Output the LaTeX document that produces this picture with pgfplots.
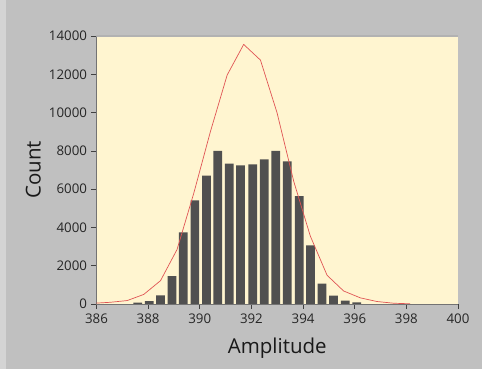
\documentclass[border=0pt]{standalone}
\usepackage{fontspec}
\setmainfont{Open Sans}
\usepackage{pgfplots}
\pgfplotsset{compat=1.18}
\usepackage{pgfplotstable}

\definecolor{panel}{RGB}{192,192,192}
\definecolor{paneledge}{RGB}{212,212,212}
\definecolor{plotbg}{RGB}{255,245,208}
\definecolor{barfill}{RGB}{80,80,80}
\definecolor{fitred}{RGB}{224,84,84}

% histogram bins: centre, count
\pgfplotstableread{
x      y
387.60 70
388.04 150
388.48 450
388.92 1450
389.36 3740
389.81 5410
390.26 6700
390.70 8000
391.14 7330
391.58 7240
392.05 7290
392.50 7550
392.94 8000
393.39 7450
393.85 5640
394.29 3060
394.73 1060
395.18 435
395.63 170
396.08 80
}\histdata

% fitted distribution curve
\pgfplotstableread{
x      y
385.90 40
386.54 90
387.19 180
387.83 500
388.48 1220
389.12 2850
389.77 5800
390.41 9000
391.06 11960
391.70 13560
392.35 12740
392.99 10000
393.64 6400
394.28 3550
394.93 1500
395.57 680
396.22 320
396.86 130
397.51 40
398.15 10
}\fitdata

\begin{document}
\begin{tikzpicture}[x=1pt,y=1pt]
\fill[panel] (0,0) rectangle (482,369);
\fill[paneledge] (0,0) rectangle (6,369);
\useasboundingbox (0,0) rectangle (482,369);
\begin{axis}[
  at={(96.5pt,65pt)}, anchor=south west,
  scale only axis, width=361.5pt, height=268pt,
  xmin=386, xmax=400, ymin=0, ymax=14000,
  axis background/.style={fill=plotbg},
  axis x line*=bottom, axis y line*=left,
  axis line style={draw=black!55, line width=0.6pt},
  xtick={386,388,...,400}, ytick={0,2000,...,14000},
  tick align=outside, major tick length=5pt,
  tick style={draw=black!75, line width=0.7pt},
  scaled y ticks=false,
  /pgf/number format/assume math mode=true,
  yticklabel style={/pgf/number format/1000 sep={}},
  ticklabel style={font=\fontsize{13.3}{16}\selectfont, text=black!85},
  xticklabel style={yshift=-1pt},
  yticklabel style={xshift=-1pt},
  xlabel={Amplitude}, ylabel={Count},
  label style={font=\fontsize{20.5}{24}\selectfont, text=black!90},
  xlabel style={at={(axis description cs:0.5,-0.164)}, anchor=center},
  ylabel style={at={(axis description cs:-0.175,0.5)}, anchor=center},
]
\draw[black!30, line width=1.2pt] (rel axis cs:0,1) -- (rel axis cs:1,1);
\addplot[ybar, bar width=0.338, fill=barfill, draw=none] table[x=x, y=y] {\histdata};
\addplot[fitred, line width=0.7pt, no marks] table[x=x, y=y] {\fitdata};
\end{axis}
\end{tikzpicture}
\end{document}
